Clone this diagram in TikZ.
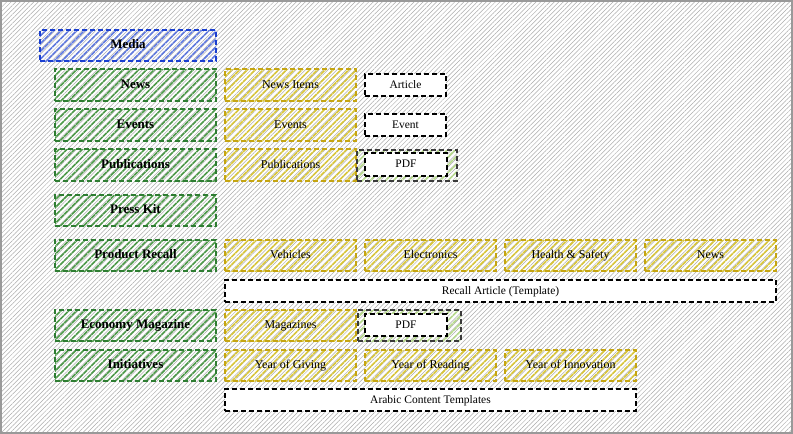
\documentclass[tikz,border=0pt]{standalone}
\usepackage{fontspec}
\setmainfont{Liberation Serif}
\usetikzlibrary{patterns.meta}
\definecolor{mblue}{HTML}{1A3FD0}
\definecolor{mgreen}{HTML}{2E7D32}
\definecolor{mgreenh}{HTML}{4E9A4A}
\definecolor{myel}{HTML}{C5A512}
\definecolor{myelh}{HTML}{D9C63A}
\definecolor{mgray}{HTML}{3A3A3A}
\definecolor{mlime}{HTML}{B5D98A}
\tikzset{
  box/.style={dash pattern=on 5pt off 3pt, line width=2pt, inner sep=0pt, minimum height=32pt, text height=0.85em, text depth=0.2em},
  hatch/.style={pattern={Lines[angle=45,distance=5.5pt,line width=1.6pt]}},
  bluebox/.style={box, hatch, draw=mblue, pattern color=mblue!70, font=\fontsize{13}{15}\selectfont\bfseries},
  gbox/.style={box, hatch, draw=mgreen, pattern color=mgreenh, font=\fontsize{13}{15}\selectfont\bfseries},
  ybox/.style={box, hatch, draw=myel, pattern color=myelh, minimum width=131pt, font=\fontsize{12}{14}\selectfont},
  wbox/.style={box, draw=black, fill=white, minimum height=22pt, font=\fontsize{11.5}{13}\selectfont},
  pbox/.style={box, hatch, draw=mgray, pattern color=mlime, minimum height=31pt},
}
\begin{document}
\begin{tikzpicture}[x=1pt,y=-1pt]
\useasboundingbox (0,0) rectangle (793,434);
\fill[white] (0,0) rectangle (793,434);
\fill[pattern={Lines[angle=45,distance=3.2pt,line width=0.5pt]}, pattern color=gray!65] (0,0) rectangle (793,434);
\draw[gray!80, line width=1.6pt] (1,1) rectangle (792,433);

% left column
\node[bluebox, minimum width=176pt, minimum height=31pt] (media) at (128,45.5) {Media};
\node[gbox, minimum width=161pt] (news) at (135.5,85) {News};
\node[gbox, minimum width=161pt] (events) at (135.5,125) {Events};
\node[gbox, minimum width=161pt] (pubs) at (135.5,165) {Publications};
\node[gbox, minimum width=161pt, minimum height=31pt] (press) at (135.5,210.5) {Press Kit};
\node[gbox, minimum width=161pt, minimum height=31pt] (recall) at (135.5,255.5) {Product Recall};
\node[gbox, minimum width=161pt, minimum height=31pt] (econ) at (135.5,325.5) {Economy Magazine};
\node[gbox, minimum width=161pt, minimum height=31pt] (init) at (135.5,365.5) {Initiatives};

% yellow items
\node[ybox] (newsitems) at (290.5,85) {News Items};
\node[ybox] (yevents) at (290.5,125) {Events};
\node[ybox] (ypubs) at (290.5,165) {Publications};
\node[ybox, minimum height=31pt] (vehicles) at (290.5,255.5) {Vehicles};
\node[ybox, minimum height=31pt] (electronics) at (430.5,255.5) {Electronics};
\node[ybox, minimum height=31pt] (health) at (570.5,255.5) {Health \& Safety};
\node[ybox, minimum height=31pt] (ynews) at (710.5,255.5) {News};
\node[ybox, minimum height=31pt] (magazines) at (290.5,325.5) {Magazines};
\node[ybox, minimum height=31pt] (giving) at (290.5,365.5) {Year of Giving};
\node[ybox, minimum height=31pt] (reading) at (430.5,365.5) {Year of Reading};
\node[ybox, minimum height=31pt] (innovation) at (570.5,365.5) {Year of Innovation};

% templates
\node[wbox, minimum width=81pt] (article) at (405.5,85) {Article};
\node[wbox, minimum width=81pt] (event) at (405.5,125) {Event};
\node[pbox, minimum width=100pt] (pdfgrp1) at (407,165.5) {};
\node[wbox, minimum width=82pt, minimum height=23pt] (pdf1) at (406,164.5) {PDF};
\node[wbox, minimum width=551pt] (recallart) at (500.5,291) {Recall Article (Template)};
\node[pbox, minimum width=103pt] (pdfgrp2) at (409.5,325.5) {};
\node[wbox, minimum width=82pt] (pdf2) at (406,325) {PDF};
\node[wbox, minimum width=411pt] (arabic) at (430.5,400) {Arabic Content Templates};
\end{tikzpicture}
\end{document}
